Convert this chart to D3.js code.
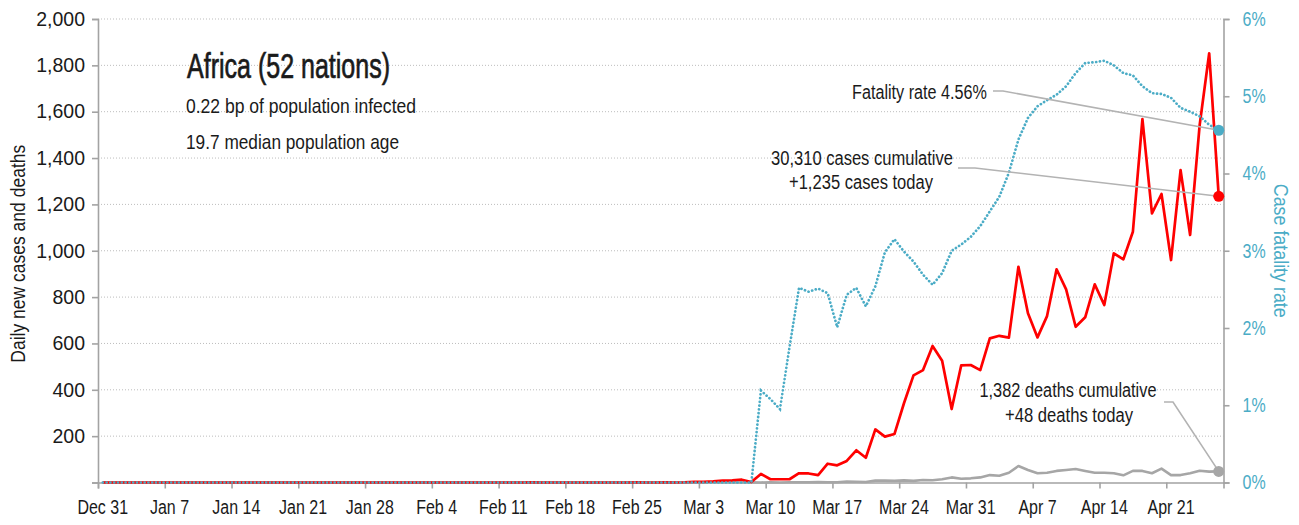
<!DOCTYPE html>
<html>
<head>
<meta charset="utf-8">
<script src="https://cdn.jsdelivr.net/npm/d3@7"></script>
<style>
  body { margin: 0; background: #fff; }
  svg text { font-family: "Liberation Sans", Arial, sans-serif; fill: #1a1a1a; }
</style>
</head>
<body>
<svg id="chart" width="1299" height="525"></svg>
<script>
// ---- data: daily values from Dec 31 (day 0) to Apr 26 (day 117) ----
const dayCount = 118;

const tickLabels = ["Dec 31", "Jan 7", "Jan 14", "Jan 21", "Jan 28", "Feb 4", "Feb 11", "Feb 18",
  "Feb 25", "Mar 3", "Mar 10", "Mar 17", "Mar 24", "Mar 31", "Apr 7", "Apr 14", "Apr 21"];

// daily new cases
const cases = [
  0, 0, 0, 0, 0, 0, 0, 0, 0, 0, 0, 0, 0, 0, 0, 0, 0, 0, 0, 0,
  0, 0, 0, 0, 0, 0, 0, 0, 0, 0, 0, 0, 0, 0, 0, 0, 0, 0, 0, 0,
  0, 0, 0, 0, 0, 1, 0, 0, 0, 0, 0, 0, 0, 0, 0, 0, 1, 0, 0, 1,
  0, 1, 3, 3, 5, 8, 9, 12, 2, 37, 14, 14, 14, 40, 39, 32, 81, 74, 93, 139,
  107, 229, 198, 209, 342, 462, 485, 589, 525, 317, 505, 507, 485, 622, 633, 625, 931, 730, 626, 718,
  920, 833, 672, 713, 855, 766, 989, 963, 1082, 1568, 1161, 1245, 960, 1348, 1068, 1542, 1852, 1235
];

// daily new deaths
const deaths = [
  0, 0, 0, 0, 0, 0, 0, 0, 0, 0, 0, 0, 0, 0, 0, 0, 0, 0, 0, 0,
  0, 0, 0, 0, 0, 0, 0, 0, 0, 0, 0, 0, 0, 0, 0, 0, 0, 0, 0, 0,
  0, 0, 0, 0, 0, 0, 0, 0, 0, 0, 0, 0, 0, 0, 0, 0, 0, 0, 0, 0,
  0, 0, 0, 0, 0, 0, 0, 0, 1, 0, 1, 0, 1, 1, 1, 2, 1, 1, 4, 3,
  2, 8, 8, 7, 9, 7, 11, 10, 14, 22, 16, 18, 22, 32, 29, 42, 71, 54, 40, 42,
  50, 54, 58, 50, 42, 42, 40, 31, 50, 50, 40, 60, 32, 32, 40, 51, 47, 48
];

// case fatality rate, percent
const fatalityRate = [
  0, 0, 0, 0, 0, 0, 0, 0, 0, 0, 0, 0, 0, 0, 0, 0, 0, 0, 0, 0,
  0, 0, 0, 0, 0, 0, 0, 0, 0, 0, 0, 0, 0, 0, 0, 0, 0, 0, 0, 0,
  0, 0, 0, 0, 0, 0, 0, 0, 0, 0, 0, 0, 0, 0, 0, 0, 0, 0, 0, 0,
  0, 0, 0, 0, 0, 0, 0, 0, 0, 1.19, 1.08, 0.95, 1.75, 2.52, 2.47, 2.51, 2.45, 2.01, 2.43, 2.52,
  2.28, 2.54, 2.98, 3.15, 2.99, 2.86, 2.69, 2.56, 2.71, 3.00, 3.08, 3.18, 3.32, 3.51, 3.70, 4.01, 4.44, 4.72, 4.87, 4.95,
  5.02, 5.13, 5.30, 5.43, 5.44, 5.46, 5.40, 5.30, 5.27, 5.13, 5.04, 5.03, 4.98, 4.85, 4.80, 4.74, 4.63, 4.56
];

const leftTicks = [0, 200, 400, 600, 800, 1000, 1200, 1400, 1600, 1800, 2000];
const rightTicks = [0, 1, 2, 3, 4, 5, 6];

const title = "Africa (52 nations)";
const subtitles = ["0.22 bp of population infected", "19.7 median population age"];
const casesNote = ["30,310 cases cumulative", "+1,235 cases today"];
const deathsNote = ["1,382 deaths cumulative", "+48 deaths today"];
const rateNote = "Fatality rate 4.56%";

// ---- layout ----
const plot = { left: 98, right: 1223.5, top: 19, bottom: 482.5 };
const axisColor = "#a3a3a3";
const red = "#ff0000";
const blue = "#4bacc6";
const grey = "#a6a6a6";

const svg = d3.select("#chart");

// narrow the glyphs of a text selection horizontally around each label's own x
function squeeze(sel, sx) {
  sel.each(function () {
    const t = d3.select(this);
    const x0 = +t.attr("x") || 0;
    t.attr("transform", `translate(${x0 * (1 - sx)},0) scale(${sx},1)`);
  });
}
// fixed text drawn to a set width
function label(x, y, str, size, width, anchor) {
  return svg.append("text")
    .attr("x", x).attr("y", y)
    .attr("text-anchor", anchor || "start")
    .attr("font-size", size)
    .attr("textLength", width).attr("lengthAdjust", "spacingAndGlyphs")
    .text(str);
}

const days = d3.range(dayCount);
const x = d3.scaleBand().domain(days).range([plot.left, plot.right]);
const xEdge = d3.scaleLinear().domain([0, dayCount]).range([plot.left, plot.right]);
const xc = i => x(i) + x.bandwidth() / 2;
const yL = d3.scaleLinear().domain([0, 2000]).range([plot.bottom, plot.top]);
const yR = d3.scaleLinear().domain([0, 6]).range([plot.bottom, plot.top]);

// horizontal dotted gridlines
svg.append("g")
  .selectAll("line")
  .data(leftTicks.filter(d => d > 0))
  .join("line")
  .attr("x1", plot.left).attr("x2", plot.right)
  .attr("y1", d => yL(d)).attr("y2", d => yL(d))
  .attr("stroke", "#bdbdbd").attr("stroke-width", 1)
  .attr("stroke-dasharray", "1 2");

// left axis
const gLeft = svg.append("g")
  .attr("transform", `translate(${plot.left},0)`)
  .call(d3.axisLeft(yL).tickValues(leftTicks).tickSize(6).tickPadding(7)
    .tickFormat(d => d === 0 ? "" : d3.format(",")(d)));

// right axis
const gRight = svg.append("g")
  .attr("transform", `translate(${plot.right},0)`)
  .call(d3.axisRight(yR).tickValues(rightTicks).tickSize(6).tickPadding(13)
    .tickFormat(d => d + "%"));

// bottom axis: tick marks on week boundaries, labels centred on the day
const gBottomTicks = svg.append("g")
  .attr("transform", `translate(0,${plot.bottom})`)
  .call(d3.axisBottom(xEdge).tickValues(d3.range(0, dayCount, 7)).tickSize(6).tickFormat(""));
const gBottomLabels = svg.append("g")
  .attr("transform", `translate(0,${plot.bottom})`)
  .call(d3.axisBottom(x).tickValues(d3.range(0, dayCount, 7)).tickSize(0).tickPadding(18)
    .tickFormat((d, i) => tickLabels[i]));
gBottomLabels.select(".domain").remove();

[gLeft, gRight, gBottomTicks].forEach(g => {
  g.select(".domain").attr("stroke", axisColor).attr("stroke-width", 1.6);
  g.selectAll(".tick line").attr("stroke", axisColor).attr("stroke-width", 1.6);
});
[gLeft, gRight, gBottomLabels].forEach(g => {
  g.selectAll(".tick text").attr("font-size", 19.5).attr("font-family", null).attr("fill", null);
});
gRight.selectAll(".tick text").style("fill", blue);
squeeze(gRight.selectAll(".tick text"), 0.82);
squeeze(gBottomLabels.selectAll(".tick text"), 0.82);

// axis titles
svg.append("text")
  .attr("transform", `translate(25,${(plot.top + plot.bottom) / 2 + 3}) rotate(-90)`)
  .attr("text-anchor", "middle")
  .attr("font-size", 19.5)
  .attr("textLength", 218).attr("lengthAdjust", "spacingAndGlyphs")
  .text("Daily new cases and deaths");
svg.append("text")
  .attr("transform", `translate(1274,${(plot.top + plot.bottom) / 2}) rotate(90)`)
  .attr("text-anchor", "middle")
  .attr("font-size", 19.5)
  .attr("textLength", 134).attr("lengthAdjust", "spacingAndGlyphs")
  .style("fill", blue)
  .text("Case fatality rate");

// series
const lineL = d3.line().x((d, i) => xc(i)).y(d => yL(d));
const lineR = d3.line().x((d, i) => xc(i)).y(d => yR(d));

svg.append("path").datum(deaths)
  .attr("d", lineL).attr("fill", "none")
  .attr("stroke", grey).attr("stroke-width", 2.6).attr("stroke-linejoin", "round");
svg.append("path").datum(cases)
  .attr("d", lineL).attr("fill", "none")
  .attr("stroke", red).attr("stroke-width", 2.7).attr("stroke-linejoin", "round");
svg.append("path").datum(fatalityRate)
  .attr("d", lineR).attr("fill", "none")
  .attr("stroke", blue).attr("stroke-width", 2.7)
  .attr("stroke-linecap", "round").attr("stroke-dasharray", "0.1 3.7");

// end-point markers and leader lines
const last = dayCount - 1;
const ends = [
  { cx: xc(last), cy: yR(fatalityRate[last]), color: blue, from: [[993, 91], [1003, 91]] },
  { cx: xc(last), cy: yL(cases[last]), color: red, from: [[958, 168], [975, 168]] },
  { cx: xc(last), cy: yL(deaths[last]), color: grey, from: [[1164, 402], [1173, 402]] }
];
ends.forEach(e => {
  svg.append("path")
    .attr("d", d3.line()([...e.from, [e.cx, e.cy]]))
    .attr("fill", "none").attr("stroke", "#b3b3b3").attr("stroke-width", 1.6);
});
ends.forEach(e => {
  svg.append("circle").attr("cx", e.cx).attr("cy", e.cy).attr("r", 5.5).attr("fill", e.color);
});

// annotations
label(987, 98.5, rateNote, 20, 135, "end");
label(862, 165, casesNote[0], 20, 182, "middle");
label(861, 188.5, casesNote[1], 20, 144, "middle");
label(1068, 396.5, deathsNote[0], 20, 177, "middle");
label(1069, 421.5, deathsNote[1], 20, 128, "middle");

// heading block
label(187, 77.5, title, 35, 203)
  .attr("stroke", "#1a1a1a").attr("stroke-width", 0.7);
label(186, 112.5, subtitles[0], 21, 230);
label(186, 148.5, subtitles[1], 21, 213);
</script>
</body>
</html>
